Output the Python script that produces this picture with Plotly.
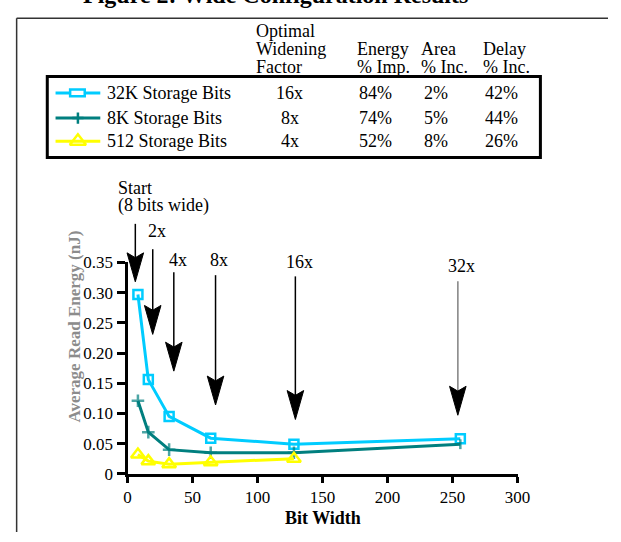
import plotly.graph_objects as go

# ---------------- data ----------------
bit_width = [8, 16, 32, 64, 128, 256]
energy_32k = [0.297, 0.156, 0.095, 0.059, 0.049, 0.058]
energy_8k = [0.121, 0.069, 0.040, 0.035, 0.035, 0.049]
bit_width_512 = [8, 16, 32, 64, 128]
energy_512 = [0.032, 0.021, 0.016, 0.019, 0.025]

series_names = ["32K Storage Bits", "8K Storage Bits", "512 Storage Bits"]
widening = ["16x", "8x", "4x"]
energy_imp = ["84%", "74%", "52%"]
area_inc = ["2%", "5%", "8%"]
delay_inc = ["42%", "44%", "26%"]

x_ticks = [0, 50, 100, 150, 200, 250, 300]
y_ticks = [0, 0.05, 0.10, 0.15, 0.20, 0.25, 0.30, 0.35]
y_ticktext = ["0", "0.05", "0.10", "0.15", "0.20", "0.25", "0.30", "0.35"]

# arrow callouts: label, bit width, tip energy, shaft-top energy
arrow_labels = ["Start<br>(8 bits wide)", "2x", "4x", "8x", "16x", "32x"]
arrow_x = [6.0, 19.4, 35.6, 67.7, 129.1, 254.1]
arrow_tip = [0.318, 0.231, 0.170, 0.114, 0.090, 0.097]
arrow_top = [0.414, 0.372, 0.334, 0.329, 0.327, 0.319]
arrow_label_y = [0.474, 0.402, 0.354, 0.354, 0.350, 0.344]

# ---------------- layout constants ----------------
W, H = 621, 542
PX_X0, PX_X1 = 127.0, 528.0
PX_Y0, PX_Y1 = 481.7, 262.7
X_RANGE = [0, 300]
Y_RANGE = [0, 0.35]

CYAN = "#00CCFF"
TEAL = "#007F7F"
YELLOW = "#FFFF00"
FONT = "Liberation Serif"


def px_x(v):
    return PX_X0 + (v - X_RANGE[0]) / (X_RANGE[1] - X_RANGE[0]) * (PX_X1 - PX_X0)


def px_y(v):
    return PX_Y0 - (v - Y_RANGE[0]) / (Y_RANGE[1] - Y_RANGE[0]) * (PX_Y0 - PX_Y1)


fig = go.Figure()

# data traces
fig.add_trace(go.Scatter(
    x=bit_width, y=energy_32k, mode="lines+markers", name=series_names[0],
    line=dict(color=CYAN, width=3),
    marker=dict(symbol="square-open", size=9, color=CYAN, line=dict(width=2.5, color=CYAN)),
    cliponaxis=False, showlegend=False))
fig.add_trace(go.Scatter(
    x=bit_width, y=energy_8k, mode="lines+markers", name=series_names[1],
    line=dict(color=TEAL, width=3),
    marker=dict(symbol=["cross-thin-open"] * 5 + ["line-ns-open"], size=[9] * 5 + [7],
                color=TEAL, line=dict(width=2.5, color=[TEAL] * 5 + ["#800080"])),
    cliponaxis=False, showlegend=False))
fig.add_trace(go.Scatter(
    x=bit_width_512, y=energy_512, mode="lines+markers", name=series_names[2],
    line=dict(color=YELLOW, width=3),
    marker=dict(symbol="triangle-up-open", size=12, color=YELLOW, line=dict(width=2.5, color=YELLOW)),
    cliponaxis=False, showlegend=False))

# legend samples inside the table (pixel overlay axes)
row_y = [87, 113, 137]
colors = [CYAN, TEAL, YELLOW]
symbols = ["square-open", "cross-thin-open", "triangle-up-open"]
for i in range(3):
    fig.add_trace(go.Scatter(x=[53, 99], y=[row_y[i], row_y[i]], mode="lines",
                             line=dict(color=colors[i], width=3), xaxis="x2", yaxis="y2",
                             showlegend=False, hoverinfo="skip"))
    if i > 0:
        fig.add_trace(go.Scatter(x=[76], y=[row_y[i]], mode="markers",
                                 marker=dict(symbol=symbols[i], size=[8, 14][i - 1], color=colors[i],
                                             line=dict(width=2.5, color=colors[i])),
                                 xaxis="x2", yaxis="y2", showlegend=False, hoverinfo="skip"))

shapes = []
annotations = []

# page frame lines
shapes.append(dict(type="line", xref="x2", yref="y2", x0=13, x1=621, y0=9.5, y1=9.5,
                   line=dict(color="#333333", width=1.5)))
shapes.append(dict(type="line", xref="x2", yref="y2", x0=13, x1=13, y0=9.5, y1=542,
                   line=dict(color="#333333", width=1.5)))
# table box
shapes.append(dict(type="rect", xref="x2", yref="y2", x0=44.5, x1=551.5, y0=70, y1=154,
                   line=dict(color="black", width=3)))
# 32K legend marker (wide rectangle)
shapes.append(dict(type="rect", xref="x2", yref="y2", x0=68, x1=83, y0=83.5, y1=90.5,
                   fillcolor="white", line=dict(color=CYAN, width=2.5)))

# arrows
for i in range(len(arrow_x)):
    xp = px_x(arrow_x[i])
    ytip = px_y(arrow_tip[i])
    ytop = px_y(arrow_top[i])
    col = "#808080" if i == 5 else "black"
    shapes.append(dict(type="line", xref="x2", yref="y2", x0=xp, x1=xp, y0=ytop, y1=ytip - 20,
                       line=dict(color=col, width=1.5)))
    path = "M {:.1f},{:.1f} L {:.1f},{:.1f} L {:.1f},{:.1f} L {:.1f},{:.1f} Z".format(
        xp - 8.5, ytip - 30, xp, ytip, xp + 8.5, ytip - 30, xp, ytip - 25)
    shapes.append(dict(type="path", xref="x2", yref="y2", path=path,
                       fillcolor="black", line=dict(color="black", width=1)))
    if i == 0:
        annotations.append(dict(x=115 / W, y=1 - px_y(arrow_label_y[0]) / H, xref="paper", yref="paper",
                                text="Start", showarrow=False, xanchor="left", yanchor="middle",
                                font=dict(size=18, family=FONT, color="black")))
        annotations.append(dict(x=115 / W, y=1 - (px_y(arrow_label_y[0]) + 18.5) / H, xref="paper", yref="paper",
                                text="(8 bits wide)", showarrow=False, xanchor="left", yanchor="middle",
                                font=dict(size=18, family=FONT, color="black")))
    else:
        annotations.append(dict(x=(xp + 4) / W, y=1 - px_y(arrow_label_y[i]) / H, xref="paper", yref="paper",
                                text=arrow_labels[i], showarrow=False, xanchor="center", yanchor="middle",
                                font=dict(size=18, family=FONT, color="black")))


def txt(x, y, s, anchor="center", size=18, color="black", angle=0):
    annotations.append(dict(x=x / W, y=1 - y / H, xref="paper", yref="paper", text=s,
                            showarrow=False, xanchor=anchor, yanchor="middle", textangle=angle,
                            font=dict(size=size, family=FONT, color=color)))


# title (cut off at top of page)
txt(279, -15, "<b>Figure 2: Wide Configuration Results</b>", size=24)

# table headers
txt(257, 22.5, "Optimal", "left")
txt(257, 41.5, "Widening", "left")
txt(257, 60, "Factor", "left")
txt(361, 41.5, "Energy", "left")
txt(361, 60, "% Imp.", "left")
txt(427, 41.5, "Area", "left")
txt(427, 60, "% Inc.", "left")
txt(490, 41.5, "Delay", "left")
txt(490, 60, "% Inc.", "left")

for i in range(3):
    txt(104, row_y[i], series_names[i], "left")
    txt(294, row_y[i], widening[i])
    txt(382, row_y[i], energy_imp[i])
    txt(444, row_y[i], area_inc[i])
    txt(512, row_y[i], delay_inc[i])

# axis titles
txt(328, 527, "<b>Bit Width</b>", size=18)
txt(72, 329, "<b>Average Read Energy (nJ)</b>", size=17, color="#8c8c8c", angle=-90)

fig.update_layout(
    width=W, height=H,
    margin=dict(l=0, r=0, t=0, b=0, pad=0),
    paper_bgcolor="white", plot_bgcolor="rgba(0,0,0,0)",
    font=dict(family=FONT, size=17, color="black"),
    xaxis=dict(domain=[PX_X0 / W, PX_X1 / W], range=X_RANGE, tickvals=x_ticks,
               showline=True, linewidth=3, linecolor="black", ticks="outside",
               ticklen=6, tickwidth=3, tickcolor="black", showgrid=False, zeroline=False,
               tickfont=dict(size=17, family=FONT), anchor="y"),
    yaxis=dict(domain=[1 - PX_Y0 / H, 1 - PX_Y1 / H], range=Y_RANGE, tickvals=y_ticks,
               ticktext=y_ticktext, showline=True, linewidth=3, linecolor="black",
               ticks="outside", ticklen=8, tickwidth=3, tickcolor="black", showgrid=False,
               zeroline=False, tickfont=dict(size=17, family=FONT), anchor="x"),
    xaxis2=dict(domain=[0, 1], range=[0, W], visible=False, anchor="y2", fixedrange=True),
    yaxis2=dict(domain=[0, 1], range=[H, 0], visible=False, anchor="x2", fixedrange=True),
    shapes=shapes, annotations=annotations, showlegend=False,
)

fig.write_html(
    "out.html",
    config={"displayModeBar": False, "staticPlot": True},
    post_script=("document.documentElement.style.margin='0';"
                 "document.body.style.margin='0';document.body.style.overflow='hidden';"
                 "var d=document.getElementById('{plot_id}');"
                 "d.style.position='fixed';d.style.left='0px';d.style.top='0px';"),
)
